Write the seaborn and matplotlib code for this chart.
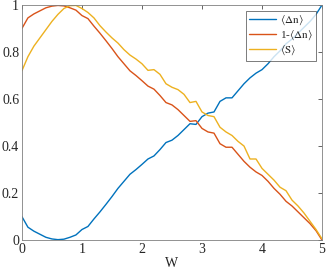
import numpy as np
import pandas as pd
import seaborn as sns
import matplotlib
matplotlib.use("Agg")
import matplotlib.pyplot as plt

# disorder strength W
w = np.round(np.arange(0, 5.01, 0.1), 2)

# <dn> (blue)
dn = [0.100, 0.055, 0.038, 0.025, 0.012, 0.005, 0.002, 0.004, 0.012, 0.022,
      0.045, 0.058, 0.090, 0.120, 0.152, 0.185, 0.220, 0.250, 0.280, 0.300,
      0.322, 0.345, 0.358, 0.385, 0.415, 0.425, 0.445, 0.470, 0.495, 0.492,
      0.525, 0.540, 0.545, 0.590, 0.605, 0.605, 0.635, 0.665, 0.690, 0.710,
      0.725, 0.750, 0.780, 0.805, 0.835, 0.855, 0.880, 0.905, 0.930, 0.960,
      1.000]

# <S> (yellow)
s = [0.720, 0.780, 0.825, 0.860, 0.895, 0.930, 0.960, 0.985, 0.997, 0.998,
     0.985, 0.968, 0.945, 0.912, 0.885, 0.860, 0.838, 0.810, 0.787, 0.770,
     0.750, 0.722, 0.725, 0.705, 0.665, 0.650, 0.640, 0.620, 0.585, 0.590,
     0.545, 0.530, 0.525, 0.480, 0.460, 0.445, 0.420, 0.400, 0.345, 0.345,
     0.305, 0.280, 0.255, 0.225, 0.210, 0.170, 0.145, 0.115, 0.080, 0.045,
     0.005]

labels = [r"$\langle\Delta\mathrm{n}\rangle$",
          r"1-$\langle\Delta\mathrm{n}\rangle$",
          r"$\langle\mathrm{S}\rangle$"]
colors = ["#0072BD", "#D95319", "#EDB120"]


def plot_graph():
    dn_arr = np.array(dn)
    df = pd.concat([
        pd.DataFrame({"W": w, "val": dn_arr, "series": labels[0]}),
        pd.DataFrame({"W": w, "val": 1 - dn_arr, "series": labels[1]}),
        pd.DataFrame({"W": w, "val": s, "series": labels[2]}),
    ])

    sns.set_style("white")
    plt.rcParams["font.family"] = ["Liberation Serif", "DejaVu Serif"]
    plt.rcParams["mathtext.fontset"] = "stix"

    fig = plt.figure(figsize=(3.32, 2.76), dpi=100)
    ax = fig.add_axes([0.066, 0.13, 0.904, 0.852])
    sns.lineplot(data=df, x="W", y="val", hue="series", palette=colors,
                 linewidth=1.0, ax=ax)

    ax.set_xlim(0, 5)
    ax.set_ylim(0, 1)
    ax.set_xticks([0, 1, 2, 3, 4, 5])
    ax.set_yticks([0, 0.2, 0.4, 0.6, 0.8, 1])
    ax.set_yticklabels(["0", "0.2", "0.4", "0.6", "0.8", "1"])
    ax.set_xlabel("W", fontsize=10, labelpad=1)
    ax.set_ylabel("")
    ax.tick_params(direction="in", length=3, width=0.5, top=True, right=True,
                   labelsize=10, colors="#262626", pad=2)
    for sp in ax.spines.values():
        sp.set_visible(True)
        sp.set_color("#808080")
        sp.set_linewidth(0.6)

    leg = ax.legend(loc="upper right", fontsize=8, frameon=True, fancybox=False,
                    handlelength=2.4, borderpad=0.3, labelspacing=0.15,
                    handletextpad=0.4, borderaxespad=0.5)
    leg.get_frame().set_edgecolor("#404040")
    leg.get_frame().set_linewidth(0.6)

    plt.savefig("out.png", dpi=100)


def main():
    plot_graph()


if __name__ == "__main__":
    main()
